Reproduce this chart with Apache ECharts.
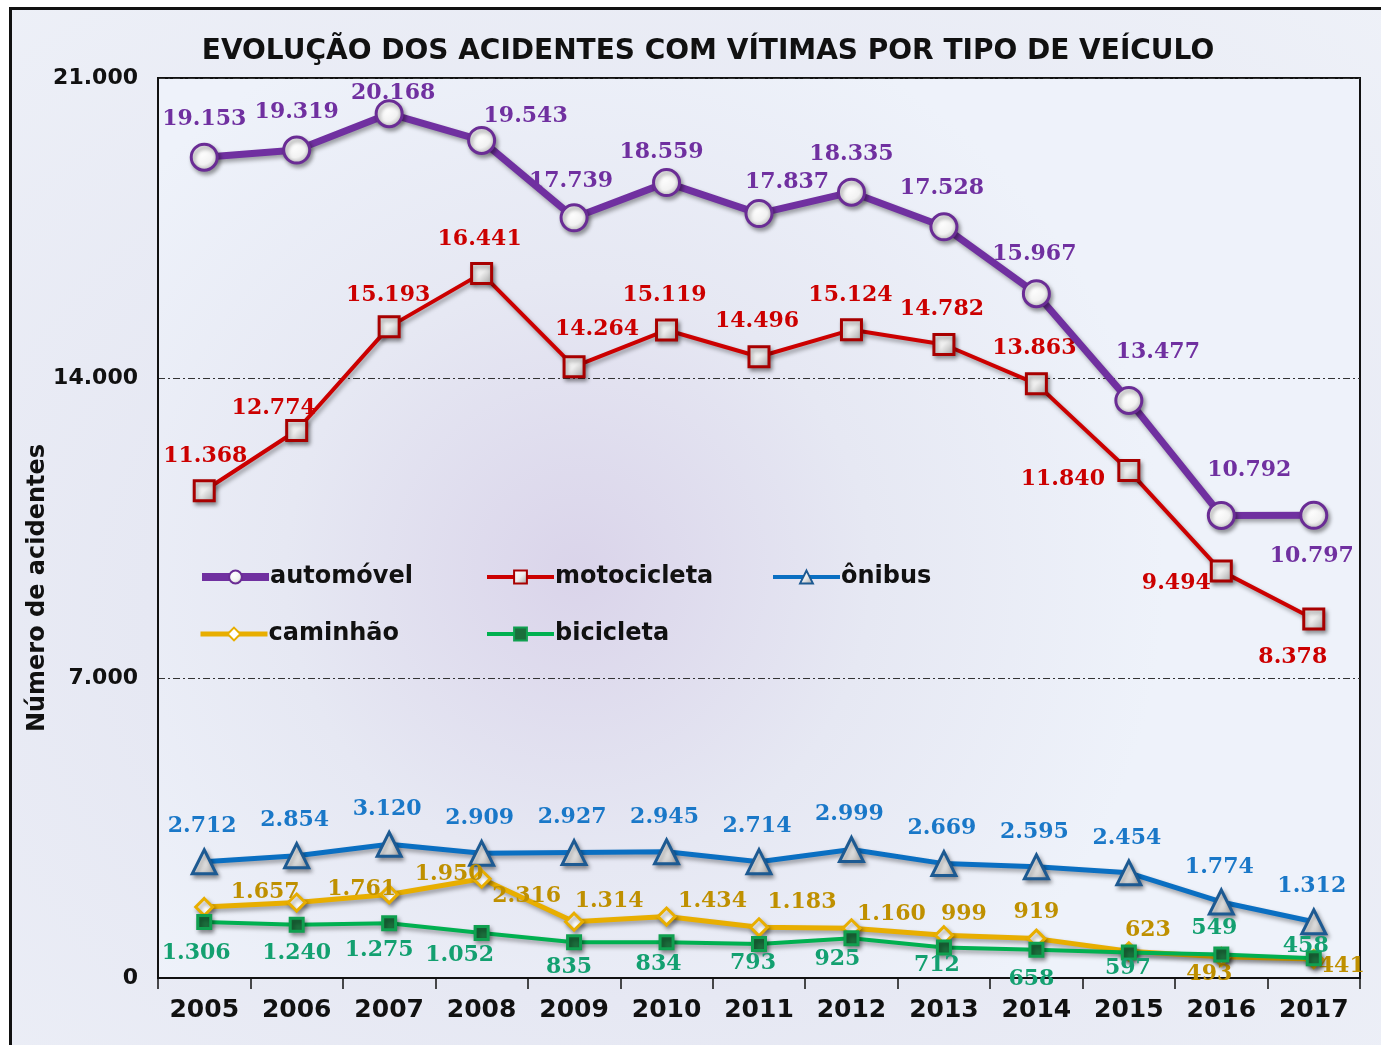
<!DOCTYPE html>
<html>
<head>
<meta charset="utf-8">
<script src="https://cdn.jsdelivr.net/npm/echarts@6/dist/echarts.min.js"></script>
<style>
    html, body { margin: 0; padding: 0; background: #fff; overflow: hidden; }
    #frame {
        position: absolute; left: 9px; top: 7px; width: 1400px; height: 1100px;
        border: 3px solid #111;
        background: radial-gradient(ellipse at 45% 55%, #dcd7eb 0%, #e6e8f3 45%, #eef1f8 100%);
    }
    #chart { position: absolute; left: 0; top: 0; width: 1381px; height: 1045px; }
</style>
</head>
<body>
<div id="frame"></div>
<div id="chart"></div>
<script>
const years = ["2005", "2006", "2007", "2008", "2009", "2010", "2011", "2012", "2013", "2014", "2015", "2016", "2017"];
const automovel = [19153, 19319, 20168, 19543, 17739, 18559, 17837, 18335, 17528, 15967, 13477, 10792, 10797];
const motocicleta = [11368, 12774, 15193, 16441, 14264, 15119, 14496, 15124, 14782, 13863, 11840, 9494, 8378];
const onibus = [2712, 2854, 3120, 2909, 2927, 2945, 2714, 2999, 2669, 2595, 2454, 1774, 1312];
const caminhao = [1657, 1761, 1950, 2316, 1314, 1434, 1183, 1160, 999, 919, 623, 493, 441];
const bicicleta = [1306, 1240, 1275, 1052, 835, 834, 793, 925, 712, 658, 597, 549, 458];
const yTicks = [0, 7000, 14000, 21000];

// where each value label sits relative to its point (hand placed, like the original)
const autoShift = [[0,-38],[0,-38],[4,-20],[44,-24],[-3,-36],[-5,-30],[28,-31],[0,-38],[-2,-39],[-2,-39],[29,-48],[28,-45],[-2,41]];
const motoShift = [[1,-35],[-23,-22],[-1,-32],[-2,-34],[23,-37],[-2,-35],[-2,-35],[-1,-35],[-2,-35],[-2,-36],[-66,9],[-45,12],[-21,38]];
const onibusShift = years.map(() => [-2, -35]);
const caminhaoShift = [[61,-15],[65,-13],[60,-20],[45,18],[35,-20],[46,-15],[43,-25],[40,-14],[20,-21],[0,-26],[19,-21],[-12,17],[28,7]];
const bicicletaShift = [[-8,31],[0,28],[-10,27],[-22,22],[-5,25],[-8,22],[-6,19],[-14,21],[-7,18],[-5,29],[-1,16],[-7,-26],[-8,-12]];

function fmt(v) {
    return String(v).replace(/\B(?=(\d{3})+(?!\d))/g, ".");
}

function withLabels(values, shifts) {
    return values.map((v, i) => ({ value: v, label: { offset: shifts[i] } }));
}

const shadow = { shadowColor: "rgba(0,0,0,0.35)", shadowBlur: 4, shadowOffsetX: 2, shadowOffsetY: 3 };
const ball = { type: "radial", x: 0.4, y: 0.35, r: 0.75, colorStops: [{ offset: 0, color: "#ffffff" }, { offset: 0.55, color: "#f2f2f2" }, { offset: 1, color: "#a0a0a0" }] };
const tile = { type: "linear", x: 0, y: 0, x2: 1, y2: 1, colorStops: [{ offset: 0, color: "#ffffff" }, { offset: 0.5, color: "#eeeeee" }, { offset: 1, color: "#9a9a9a" }] };

function makeSeries(name, values, shifts, o) {
    return {
        name: name,
        type: "line",
        data: withLabels(values, shifts),
        symbol: o.symbol,
        symbolSize: o.size,
        z: o.z,
        lineStyle: Object.assign({ color: o.line, width: o.width }, shadow),
        itemStyle: Object.assign({ color: o.fill, borderColor: o.border, borderWidth: o.bw }, shadow),
        label: {
            show: true,
            position: "inside",
            color: o.text,
            fontFamily: "DejaVu Serif",
            fontWeight: "bold",
            fontSize: 22,
            formatter: p => fmt(p.value)
        },
        emphasis: { disabled: true }
    };
}

function legendAt(name, left, top, lineWidth) {
    return {
        data: [name],
        left: left,
        top: top,
        padding: 0,
        itemWidth: 67,
        itemHeight: 16,
        itemGap: 0,
        lineStyle: { width: lineWidth, shadowBlur: 0, shadowOffsetX: 0, shadowOffsetY: 0 },
        textStyle: { color: "#111", fontFamily: "DejaVu Sans", fontWeight: "bold", fontSize: 24, padding: [0, 0, 0, -4] }
    };
}

const chart = echarts.init(document.getElementById("chart"), null, { renderer: "canvas" });
chart.setOption({
    animation: false,
    backgroundColor: "transparent",
    title: {
        text: "EVOLUÇÃO DOS ACIDENTES COM VÍTIMAS POR TIPO DE VEÍCULO",
        left: 703,
        textAlign: "center",
        top: 33,
        textStyle: { color: "#111", fontFamily: "DejaVu Sans", fontWeight: "bold", fontSize: 28 }
    },
    legend: [
        legendAt("automóvel", 198, 565, 8),
        legendAt("motocicleta", 485, 565, 4),
        legendAt("ônibus", 771, 565, 4),
        legendAt("caminhão", 198, 622, 5),
        legendAt("bicicleta", 485, 622, 4)
    ],
    grid: {
        left: 158, right: 21, top: 78, bottom: 67,
        show: true,
        borderColor: "#111",
        borderWidth: 2,
        backgroundColor: {
            type: "radial", x: 0.35, y: 0.55, r: 0.65,
            colorStops: [{ offset: 0, color: "#dad4ea" }, { offset: 0.5, color: "#e6e8f3" }, { offset: 1, color: "#eef2fa" }]
        }
    },
    graphic: [{
        type: "text",
        x: 38,
        y: 588,
        rotation: Math.PI / 2,
        style: {
            text: "Número de acidentes",
            align: "center",
            verticalAlign: "middle",
            fill: "#111",
            font: "bold 24px 'DejaVu Sans'"
        }
    }],
    xAxis: {
        type: "category",
        data: years,
        boundaryGap: true,
        axisLine: { lineStyle: { color: "#111", width: 2 } },
        axisTick: { show: true, length: 11, lineStyle: { color: "#111", width: 1.5 } },
        axisLabel: { color: "#111", fontFamily: "DejaVu Sans", fontWeight: "bold", fontSize: 25, margin: 20 },
        splitLine: { show: false }
    },
    yAxis: {
        type: "value",
        min: yTicks[0],
        max: yTicks[yTicks.length - 1],
        interval: yTicks[1] - yTicks[0],
        axisLine: { show: true, lineStyle: { color: "#111", width: 2 } },
        axisTick: { show: false },
        axisLabel: { color: "#111", fontFamily: "DejaVu Sans", fontWeight: "bold", fontSize: 22, margin: 20, formatter: v => fmt(v) },
        splitLine: { show: true, lineStyle: { color: "#333", width: 1, type: [7, 3, 2, 3] } }
    },
    series: [
        makeSeries("ônibus", onibus, onibusShift, { symbol: "triangle", size: 24, line: "#0a6fc2", width: 5, fill: tile, border: "#1d5a92", bw: 3, text: "#1a78c8", z: 3 }),
        makeSeries("caminhão", caminhao, caminhaoShift, { symbol: "diamond", size: 17, line: "#e8ae00", width: 5, fill: "#ffffff", border: "#e8ae00", bw: 3, text: "#bf9000", z: 4 }),
        makeSeries("bicicleta", bicicleta, bicicletaShift, { symbol: "rect", size: 13, line: "#00b050", width: 4, fill: "#1b6e3c", border: "#10a050", bw: 3, text: "#13a070", z: 5 }),
        makeSeries("motocicleta", motocicleta, motoShift, { symbol: "rect", size: 20, line: "#cc0000", width: 4, fill: tile, border: "#a80000", bw: 3, text: "#cc0000", z: 6 }),
        makeSeries("automóvel", automovel, autoShift, { symbol: "circle", size: 26, line: "#7030a0", width: 7, fill: ball, border: "#6a2c95", bw: 3, text: "#7030a0", z: 7 })
    ]
});
</script>
</body>
</html>
